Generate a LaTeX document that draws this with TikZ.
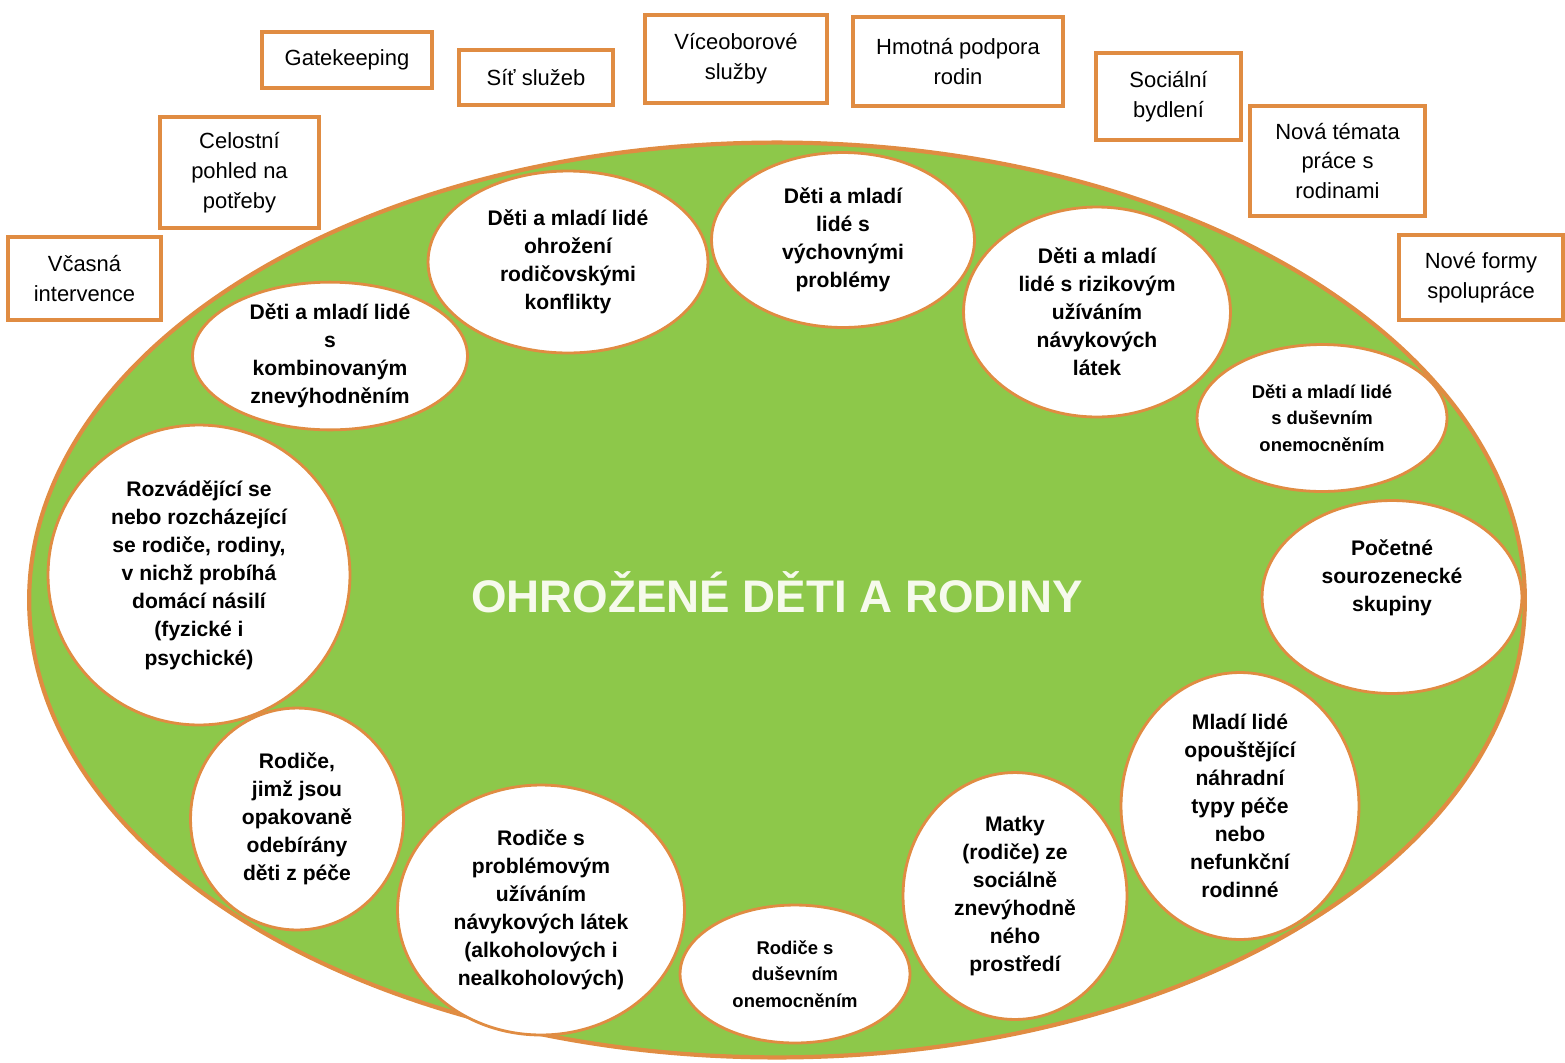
\documentclass[tikz,border=0pt]{standalone}
\usepackage{fontspec}
\setmainfont{Liberation Sans}
\usepackage{tikz}
\usetikzlibrary{shapes.geometric}

\definecolor{leafgreen}{RGB}{141,200,74}
\definecolor{rimorange}{RGB}{224,140,66}
\definecolor{titlewhite}{RGB}{246,250,236}

\tikzset{
	group/.style = {ellipse, draw = rimorange, line width = 2.4pt, fill = leafgreen, inner sep = 0pt},
	topic/.style = {ellipse, draw = rimorange, line width = 1.6pt, fill = white, align = center, inner sep = 0pt, font = \bfseries\fontsize{12}{16}\selectfont},
	smalltopic/.style = {topic, font = \bfseries\fontsize{10.5}{15}\selectfont},
	measure/.style = {rectangle, draw = rimorange, line width = 2.2pt, fill = white, align = center, inner sep = 0pt, font = \fontsize{12.5}{17}\selectfont}
}

\begin{document}
\begin{tikzpicture}[x = 0.02cm, y = -0.02cm]
		\useasboundingbox (0,0) rectangle (1565,1062);
		
		\node[group, minimum width = 29.92cm, minimum height = 18.3cm] (family) at (777,600) {};
		\node[font = \bfseries\fontsize{26}{30}\selectfont, text = titlewhite] (title) at (777,592) {OHROŽENÉ DĚTI A RODINY};
		
		\node[topic, minimum width = 5.6cm, minimum height = 3.64cm] (konflikty) at (568,262) {Děti a mladí lidé\\ohrožení\\rodičovskými\\konflikty};
		\node[topic, minimum width = 5.26cm, minimum height = 3.5cm] (vychova) at (843,240) {Děti a mladí\\lidé s\\výchovnými\\problémy};
		\node[topic, minimum width = 5.34cm, minimum height = 4.2cm] (riziko) at (1097,312) {Děti a mladí\\lidé s rizikovým\\užíváním\\návykových\\látek};
		\node[smalltopic, minimum width = 5cm, minimum height = 2.94cm] (dusedeti) at (1322,418) {Děti a mladí lidé\\s duševním\\onemocněním};
		\node[topic, minimum width = 5.2cm, minimum height = 3.86cm] (sourozenci) at (1392,597) {Početné\\sourozenecké\\skupiny\\[8pt]};
		\node[topic, minimum width = 4.76cm, minimum height = 5.34cm] (opousteni) at (1240,806) {Mladí lidé\\opouštějící\\náhradní\\typy péče\\nebo\\nefunkční\\rodinné};
		\node[topic, minimum width = 4.48cm, minimum height = 4.94cm] (matky) at (1015,896) {Matky\\(rodiče) ze\\sociálně\\znevýhodně\\ného\\prostředí};
		\node[smalltopic, minimum width = 4.6cm, minimum height = 2.76cm] (dusrodice) at (795,974) {Rodiče s\\duševním\\onemocněním};
		\node[topic, minimum width = 5.74cm, minimum height = 5cm] (latky) at (541,910) {Rodiče s\\problémovým\\užíváním\\návykových látek\\(alkoholových i\\nealkoholových)};
		\node[topic, minimum width = 4.26cm, minimum height = 4.44cm] (odebrani) at (297,819) {Rodiče,\\jimž jsou\\opakovaně\\odebírány\\děti z péče};
		\node[topic, minimum width = 6.04cm, minimum height = 6cm] (rozvod) at (199,575) {Rozvádějící se\\nebo rozcházející\\se rodiče, rodiny,\\v nichž probíhá\\domácí násilí\\(fyzické i\\psychické)};
		\node[topic, minimum width = 5.5cm, minimum height = 2.86cm] (kombinace) at (330,356) {Děti a mladí lidé\\s\\kombinovaným\\znevýhodněním};
		
		\node[measure, minimum width = 3.4cm, minimum height = 1.12cm] (gatekeeping) at (347,60) {Gatekeeping};
		\node[measure, minimum width = 3.08cm, minimum height = 1.1cm] (sit) at (536,77.5) {Síť služeb};
		\node[measure, minimum width = 3.64cm, minimum height = 1.76cm] (viceobor) at (736,59) {Víceoborové\\služby};
		\node[measure, minimum width = 4.2cm, minimum height = 1.78cm] (hmotna) at (958,61.5) {Hmotná podpora\\rodin};
		\node[measure, minimum width = 2.9cm, minimum height = 1.74cm] (bydleni) at (1168.5,96.5) {Sociální\\bydlení};
		\node[measure, minimum width = 3.5cm, minimum height = 2.2cm] (temata) at (1337.5,161) {Nová témata\\práce s\\rodinami};
		\node[measure, minimum width = 3.28cm, minimum height = 1.7cm] (formy) at (1481,277.5) {Nové formy\\spolupráce};
		\node[measure, minimum width = 3.18cm, minimum height = 2.22cm] (celostni) at (239.5,172.5) {Celostní\\pohled na\\potřeby};
		\node[measure, minimum width = 3.06cm, minimum height = 1.66cm] (intervence) at (84.5,278.5) {Včasná\\intervence};
\end{tikzpicture}
\end{document}
